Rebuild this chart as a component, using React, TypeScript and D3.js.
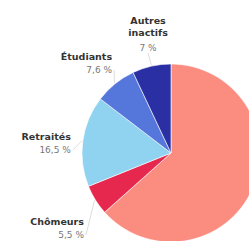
import { useEffect, useRef } from 'react';
import * as d3 from 'd3';

const CATEGORIES = ['Actifs occupés', 'Chômeurs', 'Retraités', 'Étudiants', 'Autres inactifs'];
const VALUES = [63.4, 5.5, 16.5, 7.6, 7];
const VALUE_LABELS = ['63,4 %', '5,5 %', '16,5 %', '7,6 %', '7 %'];
const COLORS = ['#fb8c80', '#e6284e', '#8fd3f1', '#5577dc', '#2a2fa4'];

// label placement: [angle in degrees, radius, anchor], null = no label shown
const LABEL_LAYOUT: ([number, number, string] | null)[] = [
  null,
  [230.4, 113, 'end'],
  [277.4, 101, 'end'],
  [327.6, 110, 'end'],
  [349.9, 131, 'middle'],
];

export default function App() {
  const svgRef = useRef<SVGSVGElement>(null);

  useEffect(() => {
    if (!svgRef.current) return;
    const W = 249;
    const H = 241;
    const cx = 171;
    const cy = 153;
    const R = 89;

    const svg = d3.select(svgRef.current);
    svg.selectAll('*').remove();
    svg.attr('width', W).attr('height', H).attr('viewBox', `0 0 ${W} ${H}`);

    const data = CATEGORIES.map((c, i) => ({ name: c, value: VALUES[i], label: VALUE_LABELS[i], i }));
    const pie = d3.pie<any>().sort(null).value(d => d.value);
    const arc = d3.arc<any>().innerRadius(0).outerRadius(R);
    const arcs = pie(data);

    const g = svg.append('g').attr('transform', `translate(${cx},${cy})`);

    g.selectAll('path')
      .data(arcs)
      .join('path')
      .attr('d', arc)
      .attr('fill', d => COLORS[d.data.i])
      .attr('stroke', '#ffffff')
      .attr('stroke-width', 0.6);

    const rad = (deg: number) => (deg * Math.PI) / 180;
    const pt = (deg: number, r: number) => [Math.sin(rad(deg)) * r, -Math.cos(rad(deg)) * r];

    arcs.forEach(a => {
      const lay = LABEL_LAYOUT[a.data.i];
      if (!lay) return;
      const [ang, r, anchor] = lay;
      const [x, y] = pt(ang, r);
      const lines = a.data.name === 'Autres inactifs' ? ['Autres', 'inactifs'] : [a.data.name];
      const valueY = y + (lines.length - 1) * 12 + (lines.length > 1 ? 15 : 13);

      // leader line
      const mid = (a.startAngle + a.endAngle) / 2;
      const edge = [Math.sin(mid) * (R + 1), -Math.cos(mid) * (R + 1)];
      const lx = anchor === 'end' ? x + 2 : x;
      const ly = anchor === 'end' ? valueY - 3 : valueY + 2;
      g.append('line')
        .attr('x1', lx).attr('y1', ly)
        .attr('x2', edge[0]).attr('y2', edge[1])
        .attr('stroke', '#cfcfcf')
        .attr('stroke-width', 0.7);

      const t = g.append('text')
        .attr('text-anchor', anchor)
        .attr('font-family', 'DejaVu Sans, sans-serif');
      lines.forEach((ln, k) => {
        t.append('tspan')
          .attr('x', x)
          .attr('y', y + k * 12)
          .attr('font-size', 9.5)
          .attr('font-weight', 700)
          .attr('fill', '#333')
          .text(ln);
      });
      t.append('tspan')
        .attr('x', x)
        .attr('y', valueY)
        .attr('font-size', 9)
        .attr('fill', '#777')
        .text(a.data.label);
    });
  }, []);

  return (
    <svg
      ref={svgRef}
      style={{ position: 'absolute', left: 0, top: 0, display: 'block', background: '#fff' }}
    />
  );
}
